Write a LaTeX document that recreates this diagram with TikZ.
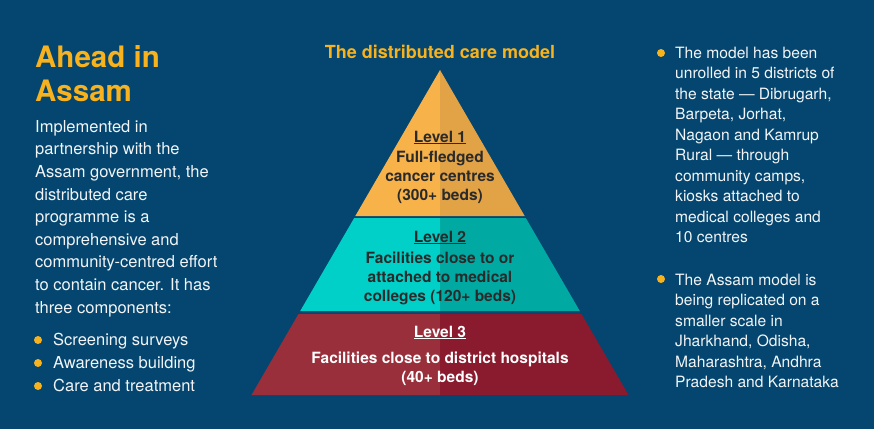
\documentclass[tikz,border=0pt]{standalone}
\usepackage{fontspec}
\setmainfont{TeX Gyre Heros}
\definecolor{bg}{HTML}{04466F}
\definecolor{gold}{HTML}{F8B21E}
\definecolor{orL}{HTML}{F8B24A}
\definecolor{orR}{HTML}{E2A246}
\definecolor{cyL}{HTML}{00D0C8}
\definecolor{cyR}{HTML}{00A9A2}
\definecolor{rdL}{HTML}{982F3B}
\definecolor{rdR}{HTML}{8A1A2D}
\definecolor{dtext}{HTML}{2A2A2A}
\definecolor{wtext}{HTML}{F2F4F6}
\tikzset{
  body/.style={font=\fontsize{16.5}{22.6}\selectfont, text=wtext, inner sep=0pt, align=left, anchor=base west},
  rbody/.style={font=\fontsize{15.6}{20.5}\selectfont, text=wtext, inner sep=0pt, align=left, anchor=base west},
  dot/.style={circle, fill=gold, inner sep=0pt, minimum size=8pt},
  lvlhead/.style={font=\fontsize{15.5}{19}\selectfont\bfseries, inner sep=0pt, anchor=base},
  lvltext/.style={font=\fontsize{15.5}{19}\selectfont\bfseries, inner sep=0pt, align=center, anchor=base},
}
\begin{document}
\begin{tikzpicture}[x=1pt,y=-1pt]
\fill[bg] (0,0) rectangle (874,429);
\useasboundingbox (0,0) rectangle (874,429);
% pyramid
\fill[orL] (440,70) -- (355.3,216) -- (440,216) -- cycle;
\fill[orR] (440,70) -- (524.7,216) -- (440,216) -- cycle;
\fill[cyL] (354.2,218) -- (300.2,311) -- (440,311) -- (440,218) -- cycle;
\fill[cyR] (525.8,218) -- (579.8,311) -- (440,311) -- (440,218) -- cycle;
\fill[rdL] (298.5,314) -- (251.5,395) -- (440,395) -- (440,314) -- cycle;
\fill[rdR] (581.5,314) -- (628.5,395) -- (440,395) -- (440,314) -- cycle;
% pyramid title
\node[font=\fontsize{18}{22}\selectfont\bfseries, text=gold, inner sep=0pt, anchor=base] (ptitle) at (440,58) {The distributed care model};
% level texts (base anchor = last line baseline)
\node[lvlhead, text=dtext] (l1h) at (440,142) {\underline{Level 1}};
\node[lvltext, text=dtext] (l1t) at (440,200) {Full-fledged\\cancer centres\\(300+ beds)};
\node[lvlhead, text=dtext] (l2h) at (440,242) {\underline{Level 2}};
\node[lvltext, text=dtext] (l2t) at (440,301) {Facilities close to or\\attached to medical\\colleges (120+ beds)};
\node[lvlhead, text=white] (l3h) at (440,337) {\underline{Level 3}};
\node[lvltext, text=white] (l3t) at (440,382) {Facilities close to district hospitals\\(40+ beds)};
% left column
\node[font=\fontsize{29.5}{34}\selectfont\bfseries, text=gold, inner sep=0pt, align=left, anchor=base west] (title) at (35,101) {Ahead in\\Assam};
\node[body] (intro) at (35,313) {Implemented in\\partnership with the\\Assam government, the\\distributed care\\programme is a\\comprehensive and\\community-centred effort\\to contain cancer. It has\\three components:};
\node[dot] (b1) at (38,340) {};
\node[dot] (b2) at (38,363) {};
\node[dot] (b3) at (38,386) {};
\node[body] (t1) at (53,345) {Screening surveys};
\node[body] (t2) at (53,368) {Awareness building};
\node[body] (t3) at (53,391) {Care and treatment};
% right column
\node[dot] (r1) at (661,53) {};
\node[dot] (r2) at (661,279) {};
\node[rbody] (rt1) at (675,242.5) {The model has been\\unrolled in 5 districts of\\the state — Dibrugarh,\\Barpeta, Jorhat,\\Nagaon and Kamrup\\Rural — through\\community camps,\\kiosks attached to\\medical colleges and\\10 centres};
\node[rbody] (rt2) at (675,387.5) {The Assam model is\\being replicated on a\\smaller scale in\\Jharkhand, Odisha,\\Maharashtra, Andhra\\Pradesh and Karnataka};
\end{tikzpicture}
\end{document}
